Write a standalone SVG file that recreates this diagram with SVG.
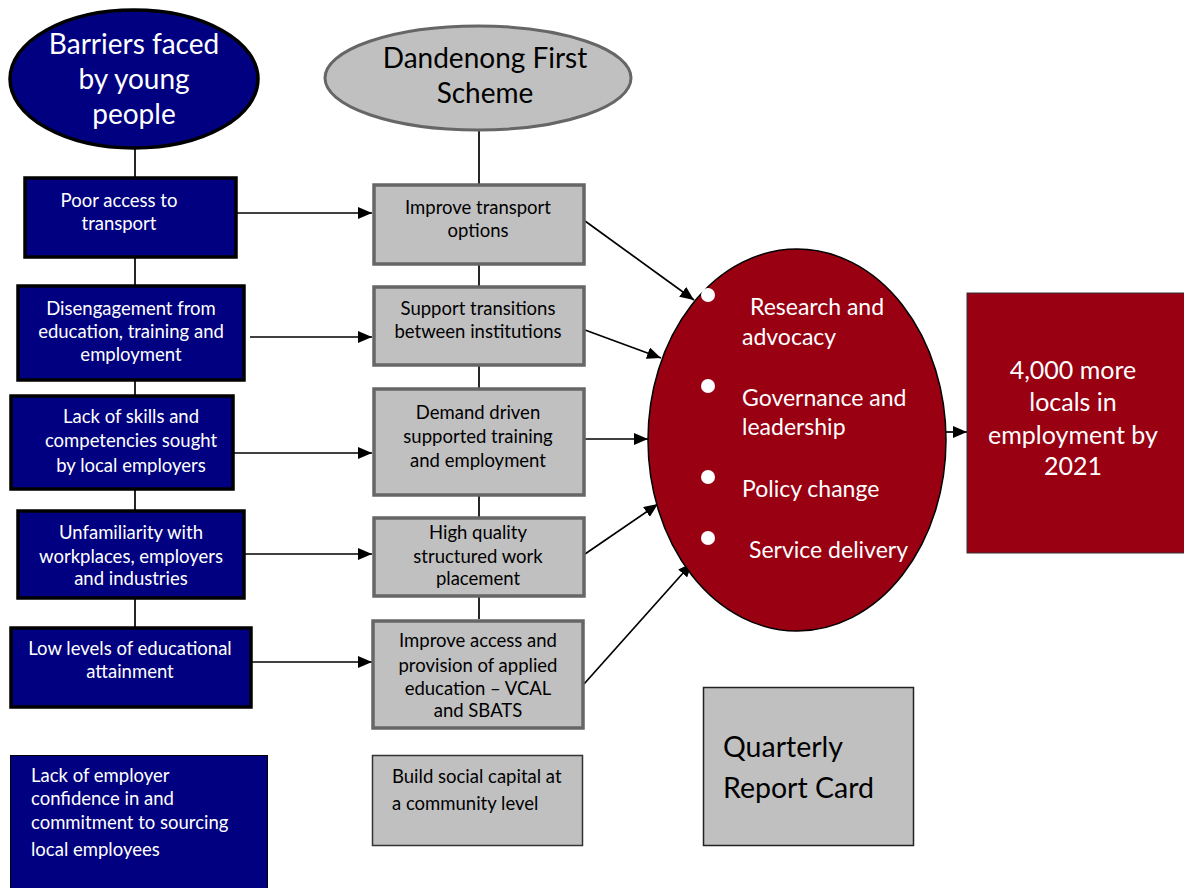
<svg xmlns="http://www.w3.org/2000/svg" width="1184" height="888" viewBox="0 0 1184 888">
<style>
text{font-family:Lato,"Open Sans","Liberation Sans",sans-serif}
.nb{fill:#000080;stroke:#000;stroke-width:3.5}
.gb{fill:#c0c0c0;stroke:#666;stroke-width:3.5}
.wt{fill:#fff;font-size:18.5px;text-anchor:middle}
.bt{fill:#000;font-size:18.5px;text-anchor:middle}
.lt{text-anchor:start}
.ln{stroke:#000;stroke-width:1.7;fill:none}
.ar{stroke:#000;stroke-width:1.7;fill:none;marker-end:url(#ah)}
.red{fill:#990012;stroke:#000;stroke-width:1.5}
.rt{fill:#fff;font-size:23px}
.dot{fill:#fff}
</style>
<defs>
<marker id="ah" viewBox="0 0 14 12" refX="14" refY="6" markerWidth="14" markerHeight="12" markerUnits="userSpaceOnUse" orient="auto">
<path d="M0,0 L14,6 L0,12 z" fill="#000"/>
</marker>
</defs>
<rect width="1184" height="888" fill="#fff"/>
<g id="connectors">
<line class="ln" x1="135" y1="148" x2="135" y2="627"/>
<line class="ln" x1="479" y1="130" x2="479" y2="619"/>
<line class="ar" x1="237" y1="213" x2="372" y2="213"/>
<line class="ar" x1="250" y1="337" x2="372" y2="337"/>
<line class="ar" x1="234" y1="453" x2="372" y2="453"/>
<line class="ar" x1="245" y1="554" x2="372" y2="554"/>
<line class="ar" x1="252" y1="662" x2="372" y2="662"/>
<line class="ar" x1="585" y1="221" x2="694" y2="300"/>
<line class="ar" x1="585" y1="330" x2="661" y2="358"/>
<line class="ar" x1="585" y1="439" x2="648" y2="439"/>
<line class="ar" x1="585" y1="554" x2="658" y2="504"/>
<line class="ar" x1="584" y1="684" x2="692" y2="563"/>
<line class="ar" x1="946" y1="432" x2="967" y2="432"/>
</g>
<g id="barriers">
<ellipse class="nb" cx="134" cy="79" rx="124" ry="69" stroke-width="3"/>
<text fill="#fff" font-size="28" text-anchor="middle"><tspan x="134" y="54">Barriers faced</tspan><tspan x="134" y="89">by young</tspan><tspan x="134" y="124">people</tspan></text>
</g>
<g id="b1"><rect class="nb" x="25" y="178" width="211" height="79"/>
<text class="wt"><tspan x="119" y="207">Poor access to</tspan><tspan x="119" y="230">transport</tspan></text></g>
<g id="b2"><rect class="nb" x="18" y="286" width="226" height="94"/>
<text class="wt"><tspan x="131" y="315">Disengagement from</tspan><tspan x="131" y="338">education, training and</tspan><tspan x="131" y="361">employment</tspan></text></g>
<g id="b3"><rect class="nb" x="11" y="396" width="222" height="93"/>
<text class="wt"><tspan x="131" y="423">Lack of skills and</tspan><tspan x="131" y="447">competencies sought</tspan><tspan x="131" y="472">by local employers</tspan></text></g>
<g id="b4"><rect class="nb" x="18" y="511" width="226" height="87"/>
<text class="wt"><tspan x="131" y="539">Unfamiliarity with</tspan><tspan x="131" y="563">workplaces, employers</tspan><tspan x="131" y="585">and industries</tspan></text></g>
<g id="b5"><rect class="nb" x="11" y="628" width="240" height="79"/>
<text class="wt"><tspan x="130" y="655">Low levels of educational</tspan><tspan x="130" y="678">attainment</tspan></text></g>
<g id="b6"><rect x="10.5" y="755.5" width="257" height="140" fill="#000080" stroke="#000" stroke-width="1"/>
<text class="wt lt"><tspan x="31" y="782">Lack of employer</tspan><tspan x="31" y="805">confidence in and</tspan><tspan x="31" y="829">commitment to sourcing</tspan><tspan x="31" y="856">local employees</tspan></text></g>
<g id="scheme">
<ellipse cx="478" cy="78" rx="153" ry="52" fill="#c0c0c0" stroke="#666" stroke-width="3"/>
<text fill="#000" font-size="28" text-anchor="middle"><tspan x="485" y="68">Dandenong First</tspan><tspan x="485" y="103">Scheme</tspan></text>
</g>
<g id="g1"><rect class="gb" x="374" y="185" width="210" height="79"/>
<text class="bt"><tspan x="478" y="214">Improve transport</tspan><tspan x="478" y="237">options</tspan></text></g>
<g id="g2"><rect class="gb" x="374" y="287" width="210" height="78"/>
<text class="bt"><tspan x="478" y="315">Support transitions</tspan><tspan x="478" y="338">between institutions</tspan></text></g>
<g id="g3"><rect class="gb" x="374" y="389" width="210" height="106"/>
<text class="bt"><tspan x="478" y="419">Demand driven</tspan><tspan x="478" y="443">supported training</tspan><tspan x="478" y="467">and employment</tspan></text></g>
<g id="g4"><rect class="gb" x="374" y="518" width="210" height="78"/>
<text class="bt"><tspan x="478" y="539">High quality</tspan><tspan x="478" y="563">structured work</tspan><tspan x="478" y="585">placement</tspan></text></g>
<g id="g5"><rect class="gb" x="373" y="621" width="210" height="107"/>
<text class="bt"><tspan x="478" y="647">Improve access and</tspan><tspan x="478" y="672">provision of applied</tspan><tspan x="478" y="695">education – VCAL</tspan><tspan x="478" y="717">and SBATS</tspan></text></g>
<g id="g6"><rect x="372.5" y="755.5" width="210" height="90" fill="#c0c0c0" stroke="#333" stroke-width="1.5"/>
<text class="bt lt"><tspan x="392" y="783">Build social capital at</tspan><tspan x="392" y="810">a community level</tspan></text></g>
<g id="levers">
<ellipse class="red" cx="797" cy="440" rx="149" ry="191"/>
<circle class="dot" cx="708" cy="295" r="7"/>
<circle class="dot" cx="708" cy="386" r="7"/>
<circle class="dot" cx="708" cy="477" r="7"/>
<circle class="dot" cx="708" cy="538" r="7"/>
<text class="rt"><tspan x="750" y="315">Research and</tspan><tspan x="742" y="345">advocacy</tspan></text>
<text class="rt"><tspan x="742" y="406">Governance and</tspan><tspan x="742" y="435">leadership</tspan></text>
<text class="rt" x="742" y="497">Policy change</text>
<text class="rt" x="749" y="558">Service delivery</text>
</g>
<g id="outcome"><rect x="967" y="293" width="220" height="260" fill="#990012" stroke="#333" stroke-width="1"/>
<text fill="#fff" font-size="25" text-anchor="middle"><tspan x="1073" y="379">4,000 more</tspan><tspan x="1073" y="411">locals in</tspan><tspan x="1073" y="444">employment by</tspan><tspan x="1073" y="475">2021</tspan></text></g>
<g id="report"><rect x="703.5" y="687.5" width="210" height="158" fill="#c0c0c0" stroke="#222" stroke-width="1.5"/>
<text fill="#000" font-size="28.5"><tspan x="723" y="757">Quarterly</tspan><tspan x="723" y="798">Report Card</tspan></text></g>
</svg>
